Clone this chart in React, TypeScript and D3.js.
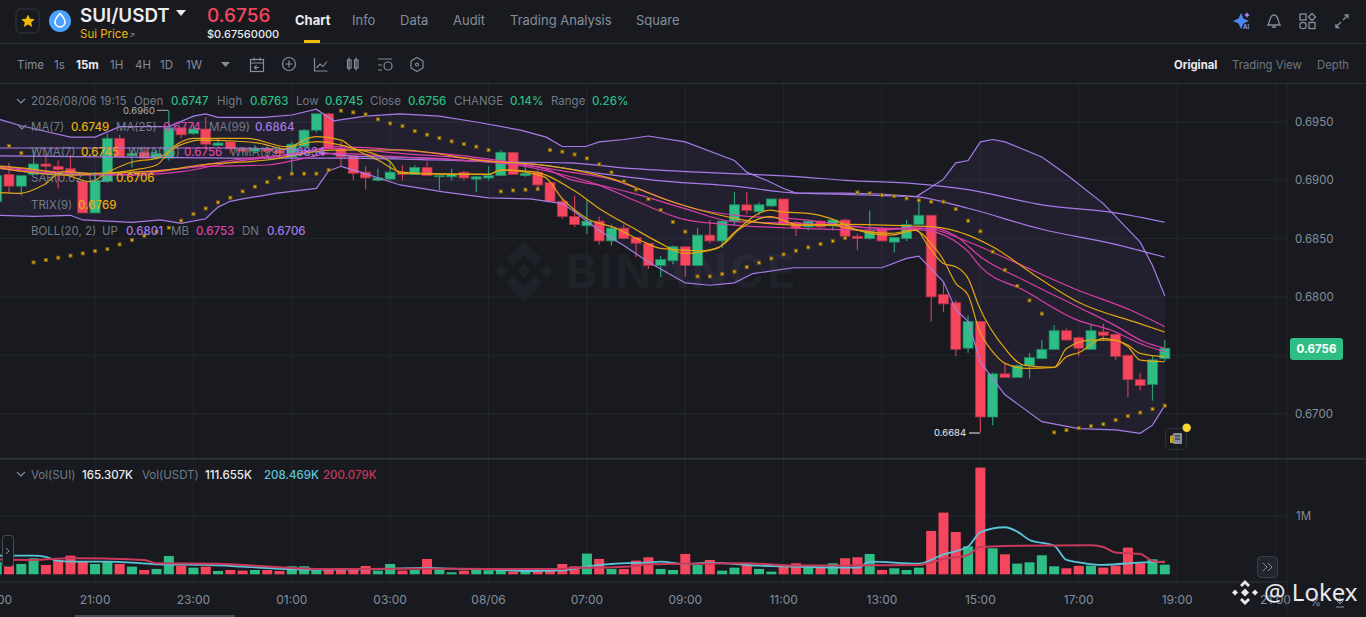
import React from "react";
import * as d3 from "d3";

const opens = [.6882,.6905,.6895,.6905,.6914,.6912,.6910,.6899,.6872,.6899,.6936,.6921,.6924,.6919,.6919,.6945,.6940,.6944,.6930,.6933,.6927,.6925,.6927,.6926,.6920,.6929,.6943,.6957,.6927,.6921,.6907,.6900,.6901,.6907,.6905,.6911,.6903,.6903,.6907,.6901,.6902,.6904,.6924,.6904,.6907,.6898,.6882,.6869,.6861,.6865,.6848,.6859,.6851,.6846,.6827,.6831,.6843,.6827,.6853,.6848,.6865,.6879,.6873,.6878,.6884,.6864,.6860,.6865,.6861,.6866,.6852,.6850,.6859,.6847,.6850,.6862,.6870,.6802,.6795,.6756,.6779,.6697,.6734,.6731,.6741,.6747,.6755,.6771,.6765,.6755,.6770,.6768,.6750,.6729,.6725,.6747];
const highs = [.6906,.6915,.6904,.6926,.6923,.6917,.6922,.6900,.6907,.6940,.6939,.6926,.6929,.6926,.6960,.6945,.6948,.6954,.6936,.6933,.6928,.6930,.6929,.6928,.6933,.6944,.6957,.6958,.6933,.6921,.6912,.6910,.6917,.6913,.6913,.6916,.6905,.6910,.6908,.6904,.6912,.6926,.6924,.6913,.6910,.6898,.6884,.6887,.6883,.6869,.6862,.6862,.6851,.6846,.6835,.6844,.6843,.6859,.6866,.6866,.6890,.6890,.6881,.6884,.6884,.6865,.6866,.6866,.6867,.6867,.6854,.6874,.6860,.6851,.6866,.6884,.6870,.6813,.6797,.6784,.6779,.6735,.6743,.6742,.6752,.6763,.6776,.6773,.6766,.6776,.6777,.6768,.6750,.6735,.6750,.6763];
const lows = [.6880,.6889,.6887,.6905,.6908,.6893,.6902,.6872,.6872,.6899,.6920,.6911,.6919,.6918,.6917,.6936,.6939,.6927,.6929,.6923,.6924,.6923,.6922,.6918,.6907,.6928,.6941,.6927,.6912,.6900,.6892,.6899,.6900,.6900,.6905,.6904,.6892,.6900,.6900,.6890,.6900,.6904,.6905,.6903,.6891,.6882,.6867,.6860,.6854,.6845,.6844,.6850,.6834,.6824,.6817,.6828,.6817,.6827,.6846,.6842,.6861,.6871,.6870,.6877,.6862,.6852,.6857,.6859,.6857,.6849,.6840,.6849,.6848,.6838,.6848,.6862,.6779,.6787,.6749,.6752,.6684,.6690,.6731,.6731,.6730,.6747,.6755,.6763,.6749,.6755,.6763,.6746,.6714,.6720,.6711,.6745];
const closes = [.6904,.6895,.6904,.6914,.6912,.6909,.6905,.6872,.6900,.6936,.6920,.6923,.6919,.6923,.6945,.6939,.6944,.6931,.6932,.6927,.6925,.6927,.6925,.6923,.6931,.6943,.6957,.6927,.6920,.6906,.6902,.6902,.6907,.6905,.6911,.6904,.6904,.6905,.6902,.6903,.6904,.6924,.6905,.6906,.6896,.6882,.6869,.6862,.6865,.6848,.6859,.6850,.6846,.6827,.6832,.6843,.6827,.6853,.6848,.6865,.6879,.6874,.6879,.6884,.6862,.6859,.6865,.6860,.6866,.6852,.6850,.6856,.6848,.6851,.6862,.6870,.6800,.6794,.6755,.6779,.6697,.6734,.6731,.6741,.6748,.6755,.6771,.6763,.6756,.6771,.6767,.6749,.6729,.6724,.6746,.6756];
const volumes = [206,189,177,275,160,246,320,217,177,217,177,132,74,92,315,149,114,132,57,74,63,74,74,57,137,137,74,80,92,92,143,63,177,63,74,263,86,34,63,86,69,74,46,63,74,74,177,137,355,263,92,92,235,292,92,74,349,160,246,63,114,160,92,46,132,189,132,114,189,275,292,349,74,103,74,114,744,1058,726,480,1830,446,343,183,206,326,137,103,143,149,114,149,458,189,257,165];
const sar: (number | null)[] = [null,.69294,.69234,.68296,.68316,.68336,.68353,.68373,.68393,.68410,.68450,.68488,.68525,.68559,.68593,.68653,.68711,.68759,.68811,.68851,.68905,.68945,.68985,.69022,.69057,.69057,.69057,.69088,.69597,.69583,.69565,.69523,.69488,.69465,.69422,.69391,.69362,.69334,.69311,.69288,.69259,.68905,.68913,.68919,.68925,.69259,.69245,.69222,.69188,.69137,.69068,.68991,.68922,.68839,.68745,.68642,.68559,.68176,.68176,.68196,.68216,.68256,.68293,.68330,.68365,.68396,.68425,.68453,.68479,.68505,.68896,.68888,.68873,.68865,.68845,.68828,.68816,.68816,.68753,.68653,.68562,.68387,.68230,.68093,.67970,.67856,.66838,.66858,.66875,.66892,.66909,.66944,.66978,.67007,.67038,.67067];

type Pt = [number, number];
const bollUp: Pt[] = [[-1,.6953],[.3,.6952],[1.9,.6947],[6,.6937],[8,.6937],[10,.6946],[14,.6946],[16,.6955],[17,.6957],[18,.6954],[21.7,.6954],[24,.6956],[26,.6961],[27.4,.6951],[30,.6955],[32.8,.6957],[36,.6955],[39,.6950],[42.6,.6943],[44.7,.6937],[46,.6929],[47.9,.6929],[49,.6933],[51,.6935],[53,.6938],[56,.6933],[60,.6917],[61,.6907],[62.6,.6900],[64,.6893],[65,.6889],[69,.6888],[74.8,.6886],[77,.6901],[78,.6915],[79,.6917],[80,.6933],[81,.6935],[82,.6933],[85,.6920],[87,.6905],[90,.6880],[93,.6847],[94,.6827],[95,.6801]];
const bollDn: Pt[] = [[-1,.6870],[.3,.6870],[3,.6869],[6,.6870],[7,.6866],[11,.6864],[13.3,.6866],[15,.6863],[17,.6867],[18,.6877],[19,.6882],[20,.6884],[22.8,.6889],[26,.6893],[27,.6908],[28,.6912],[29.6,.6907],[32.8,.6896],[36.3,.6890],[40,.6885],[43.4,.6884],[46,.6880],[47,.6873],[49,.6857],[51,.6844],[53,.6830],[56,.6812],[58,.6810],[60,.6812],[61.5,.6820],[64.8,.6825],[72,.6825],[74,.6833],[75,.6835],[77,.6813],[78,.6789],[79,.6779],[80,.6744],[82,.6716],[85,.6693],[88,.6687],[91,.6686],[93,.6683],[94,.6690],[95,.6707]];
const ma99: Pt[] = [[-1,.69277],[19,.69277],[24.7,.69260],[28.7,.69210],[35.2,.69190],[40,.6916],[46.4,.6915],[51.8,.6910],[57,.6907],[65.3,.6903],[69,.6900],[74.8,.6897],[79,.6892],[85,.6879],[91,.6872],[95,.6864]];
const wma99: Pt[] = [[-1,.69211],[19,.69191],[28,.69191],[35.8,.69174],[40,.69160],[43.6,.6914],[49,.6906],[54.5,.6899],[60,.6895],[65.3,.6889],[69,.6889],[74.8,.6886],[79,.6876],[85,.6858],[91,.6845],[95,.6834]];
const wma7: Pt[] = [[-1,.69131],[2.4,.69102],[5.7,.69045],[7.6,.68988],[9,.69068],[11.1,.69159],[13,.69188],[14.9,.69302],[16.5,.69345],[19.3,.69337],[21.4,.69317],[23.6,.69268],[24.7,.69331],[26,.69374],[28,.69345],[29,.69274],[31,.69174],[32.8,.69074],[34.4,.69059],[40,.69051],[41,.69088],[43.6,.69074],[46.9,.68916],[49,.68759],[51.8,.68588],[54,.68459],[55.9,.68373],[58.6,.68416],[59.9,.68545],[62.9,.68745],[63.7,.68731],[65,.68722],[66,.68716],[67.8,.68673],[70,.68573],[72.7,.68530],[74.8,.68573],[75.7,.68445],[77,.68287],[78,.68259],[79,.68159],[79.9,.67916],[82,.67558],[83.5,.67415],[86,.67395],[87,.67487],[88,.67521],[90,.67644],[90.9,.67630],[92,.67587],[93,.67515],[95,.67487]];
const ma7: Pt[] = [[-1,.68902],[1.9,.68888],[3.8,.68959],[5.4,.69074],[8.1,.69059],[11.1,.69088],[13,.69131],[14.4,.69288],[16,.69360],[20.3,.69360],[23.6,.69288],[26,.69331],[28,.69302],[29,.69274],[32,.69159],[32.8,.69059],[40,.69051],[41,.69088],[44.5,.69031],[46.1,.68831],[48,.68673],[50.4,.68588],[52.6,.68473],[54,.68416],[57.2,.68396],[58.8,.68430],[60.5,.68588],[62.9,.68688],[65.3,.68616],[67.8,.68616],[70,.68573],[72.7,.68545],[74.6,.68573],[76,.68459],[77,.68316],[78,.68116],[79,.68016],[79.9,.67716],[81,.67530],[82,.67430],[83.8,.67387],[86,.67395],[87,.67558],[89,.67630],[90.9,.67630],[92,.67573],[93,.67458],[95,.67444]];
const trix: Pt[] = [[-1,.69131],[5.7,.69045],[8.4,.69059],[13.8,.69088],[16.5,.69131],[22,.69174],[27.4,.69259],[32.8,.69260],[39.6,.69168],[45,.69122],[50.4,.69002],[54.5,.68831],[57.2,.68745],[60,.68673],[62.6,.68630],[65.3,.68616],[69,.68622],[74.6,.68608],[76,.68602],[79,.68530],[81,.68430],[85,.68144],[87.9,.67959],[92.9,.67773],[95,.67698]];
const ma25: Pt[] = [[-1,.69131],[7,.69059],[11.1,.69045],[15,.69074],[19.3,.69159],[24.7,.69231],[27.4,.69288],[32.8,.69259],[38.2,.69208],[41,.69168],[46.4,.69074],[50.2,.69002],[53.1,.68888],[57.2,.68745],[60,.68702],[65.3,.68665],[71.9,.68588],[75.4,.68588],[79,.68473],[82.7,.68302],[87.9,.68059],[92.2,.67887],[95,.67744]];
const wma25: Pt[] = [[-1,.69131],[7,.69051],[11.1,.69068],[15,.69102],[19.3,.69174],[23.3,.69217],[27.4,.69274],[32.8,.69231],[41,.69154],[45,.69074],[49,.68959],[51.8,.68831],[55.9,.68665],[60,.68616],[65.3,.68588],[71.9,.68573],[75.4,.68602],[78,.68522],[80,.68345],[83.8,.68130],[87.9,.67916],[90.9,.67758],[93.3,.67615],[95,.67558]];
const bollMb: Pt[] = [[-1,.69117],[7,.69045],[11.1,.69051],[16.5,.69117],[22,.69131],[24.7,.69182],[27.4,.69231],[32.8,.69200],[41,.69145],[44.5,.69102],[46.4,.69016],[49.6,.68945],[51.8,.68888],[55.9,.68759],[60,.68645],[65.3,.68630],[71.9,.68588],[75.4,.68573],[79,.68388],[80,.68259],[83.5,.68059],[87.9,.67801],[90.6,.67716],[93.3,.67587],[95,.67530]];
const volCyan: Pt[] = [[-1,320],[3,320],[4,297],[5,229],[6,217],[9,217],[11,200],[13,172],[17,160],[20,132],[24,86],[26,80],[30,86],[35,109],[37,97],[40,86],[43,57],[46,69],[48,132],[49,160],[50,177],[53,206],[54,217],[56,172],[58,200],[62,149],[66,126],[70,114],[71,217],[75,183],[77,343],[79,475],[80,721],[82,807],[83,732],[84,589],[86,492],[87,246],[88,206],[90,160],[91,172],[92,189],[95,217]];
const volRed: Pt[] = [[-1,257],[3,246],[6,275],[9,269],[12,246],[13,189],[18,183],[20,160],[23,120],[26,92],[30,92],[35,97],[40,92],[46,92],[47,114],[49,114],[51.5,132],[53,172],[57,183],[61,189],[65,149],[69,149],[75,160],[77,263],[79,332],[80,469],[82,486],[89,498],[90,469],[91,372],[93,349],[94,229],[95,206]];

const priceTicks = [0.695, 0.69, 0.685, 0.68, 0.675, 0.67];
const hiddenTick = 0.675; // covered by the last-price tag
const timeLabels = ["19:00","21:00","23:00","01:00","03:00","08/06","07:00","09:00","11:00","13:00","15:00","17:00","19:00","21:00"];
const navItems: [string, number][] = [["Info",352],["Data",400],["Audit",453],["Trading Analysis",510],["Square",636]];
const intervals: [string, number][] = [["Time",17],["1s",54],["1H",110],["4H",135],["1D",160],["1W",186]];

const GREEN = "#2ebd85", RED = "#f6465d", GOLD = "#e0a512", MAG = "#d93ea8", PUR = "#a77be8", GRID = "#23262c", GREY = "#848e9c";
const FONT = "Inter, Roboto, 'Noto Sans', sans-serif";

const x = d3.scaleLinear().domain([0, 95]).range([-3.3, 1164.8]);
const y = d3.scaleLinear().domain([0.67, 0.695]).range([413.5, 122]);
const v = d3.scaleLinear().domain([0, 1000]).range([574.3, 516]);
const lineP = d3.line<Pt>().x(d => x(d[0])).y(d => y(d[1])).curve(d3.curveMonotoneX);
const lineL = d3.line<Pt>().x(d => x(d[0])).y(d => y(d[1]));
const lineV = d3.line<Pt>().x(d => x(d[0])).y(d => v(d[1])).curve(d3.curveMonotoneX);

type Seg = [string, number, string];
const legend: [number, Seg[]][] = [
  [105, [["2026/08/06 19:15",31,GREY],["Open",134,GREY],["0.6747",171,GREEN],["High",217,GREY],["0.6763",250,GREEN],["Low",296,GREY],["0.6745",325,GREEN],["Close",370,GREY],["0.6756",408,GREEN],["CHANGE",454,GREY],["0.14%",510,GREEN],["Range",551,GREY],["0.26%",592,GREEN]]],
  [131, [["MA(7)",31,GREY],["0.6749",71,"#e8ad10"],["MA(25)",116,GREY],["0.6774",163,"#d946b0"],["MA(99)",209,GREY],["0.6864",255,"#a77be8"]]],
  [156, [["WMA(7)",31,GREY],["0.6745",81,"#e8ad10"],["WMA(25)",128,GREY],["0.6756",184,"#d946b0"],["WMA(99)",230,GREY],["0.6834",286,"#a77be8"]]],
  [182, [["SAR(0.02, 0.2)",31,GREY],["0.6706",116,"#e8ad10"]]],
  [209, [["TRIX(9)",31,GREY],["0.6769",78,"#e8ad10"]]],
  [235, [["BOLL(20, 2)",31,GREY],["UP",102,GREY],["0.6801",126,"#a77be8"],["MB",171,GREY],["0.6753",196,"#d946b0"],["DN",242,GREY],["0.6706",267,"#a77be8"]]],
  [479, [["Vol(SUI)",31,GREY],["165.307K",82,"#eaecef"],["Vol(USDT)",142,GREY],["111.655K",205,"#eaecef"],["208.469K",264,"#5cc4d8"],["200.079K",323,"#c8395c"]]],
];

const Chevron = ({ cx, cy }: { cx: number; cy: number }) => (
  <path d={`M${cx - 4} ${cy - 2}L${cx} ${cy + 2}L${cx + 4} ${cy - 2}`} fill="none" stroke={GREY} strokeWidth={1.2} />
);

export default function App() {
  const idx = d3.range(opens.length);
  const area = lineL([...bollUp, ...[...bollDn].reverse()]) + "Z";
  return (
    <svg width={1366} height={617} style={{ position: "absolute", left: 0, top: 0, display: "block", background: "#181a20", fontFamily: FONT }}>
      <defs>
        <clipPath id="main"><rect x={0} y={84} width={1287} height={374} /></clipPath>
        <clipPath id="vol"><rect x={0} y={460} width={1287} height={122} /></clipPath>
      </defs>

      {/* header */}
      <rect x={16} y={9} width={23} height={24} rx={5} fill="none" stroke="#333741" />
      <path d="M28 14.5l2 4.3 4.7.5-3.5 3.1 1 4.6-4.2-2.4-4.2 2.4 1-4.6-3.5-3.1 4.7-.5z" fill="#f0b90b" />
      <circle cx={60} cy={21} r={11} fill="#4da2ff" />
      <path d="M60 13.5c2.8 3 5 5.6 5 8.5a5 5 0 0 1-10 0c0-2.9 2.2-5.5 5-8.5z" fill="none" stroke="#fff" strokeWidth={1.5} />
      <text x={80} y={22} fontSize={18.8} fontWeight={600} fill="#eaecef">SUI/USDT</text>
      <path d="M176 10h10l-5 6z" fill="#eaecef" />
      <text x={80} y={38} fontSize={11.5} fill="#f0b90b">Sui Price</text>
      <text x={129} y={38} fontSize={8} fill={GREY}>↗</text>
      <text x={207} y={22} fontSize={19} fontWeight={500} fill={RED}>0.6756</text>
      <text x={207} y={38} fontSize={11} fontWeight={500} fill="#eaecef">$0.67560000</text>
      <text x={295} y={25} fontSize={13} fontWeight={700} fill="#eaecef">Chart</text>
      <rect x={304} y={40} width={16} height={3} fill="#f0b90b" />
      {navItems.map(([t, px]) => <text key={t} x={px} y={25} fontSize={13} fill={GREY}>{t}</text>)}
      <g fill="none" stroke={GREY} strokeWidth={1.3}>
        <path d="M1268 25c2-2 1-10 6-10s4 8 6 10zM1272 27h4" />
        <rect x={1300} y={14} width={6} height={6} /><path d="M1312 13.5l3.5 3.5-3.5 3.5-3.5-3.5z" />
        <circle cx={1303} cy={25.5} r={3.2} /><rect x={1309} y={22.5} width={6} height={6} />
        <path d="M1336 27l5-5M1336 24v3.5h3.5M1348 15l-5 5M1348 18.5V15h-3.5" />
      </g>
      <path d="M1241 13l2.5 5.5 5.5 2.5-5.5 2.5-2.500 5.500-2.500-5.500-5.500-2.500 5.500-2.500z" fill="#4f87f5" />
      <path d="M1246 14l1-2 1 2 2 1-2 1-1 2-1-2-2-1z" fill="#a58bf0" />
      <text x={1243} y={29} fontSize={6} fontWeight={700} fill="#7f9cf5">AI</text>
      <rect x={0} y={43} width={1366} height={1} fill="#2e323a" />

      {/* toolbar */}
      {intervals.map(([t, px]) => <text key={t} x={px} y={69} fontSize={11.5} fill={GREY}>{t}</text>)}
      <text x={76} y={69} fontSize={11.5} fontWeight={700} fill="#eaecef">15m</text>
      <path d="M221 62h9l-4.500 5z" fill={GREY} />
      <g fill="none" stroke={GREY} strokeWidth={1.2}>
        <rect x={250.5} y={59.5} width={13} height={12} /><path d="M250 63h14M254 57.500v3M260 57.500v3M259 67.500h-4M256.500 65.500l-2 2 2 2" />
        <circle cx={289} cy={64} r={6.5} /><path d="M289 60.500v7M285.500 64h7" />
        <path d="M314.500 58v13h13M316.500 68l3.500-4 3 2.500 4-5" />
        <rect x={347.5} y={60} width={3.5} height={8} /><rect x={354.5} y={60} width={3.5} height={8} /><path d="M349 57.500v13M356 57.500v13" />
        <path d="M378 59h14M378 65h4M378 70h4" /><circle cx={388} cy={66} r={4} />
        <path d="M417 57.500l6 3.500v7l-6 3.500-6-3.500v-7z" /><circle cx={417} cy={64.5} r={1.5} />
      </g>
      <text x={1174} y={69} fontSize={11.3} fontWeight={700} fill="#eaecef">Original</text>
      <text x={1232} y={69} fontSize={11.3} fill="#6f7682">Trading View</text>
      <text x={1317} y={69} fontSize={11.3} fill="#6f7682">Depth</text>
      <rect x={0} y={83} width={1366} height={1} fill="#2e323a" />

      {/* grid */}
      {priceTicks.map(t => <line key={t} x1={0} x2={1287} y1={y(t)} y2={y(t)} stroke={GRID} />)}
      {timeLabels.map((t, i) => (
        <g key={i}>
          <line x1={x(i * 8)} x2={x(i * 8)} y1={84} y2={582} stroke={GRID} />
          <text x={x(i * 8)} y={604} fontSize={12} textAnchor="middle" fill={GREY}>{t}</text>
        </g>
      ))}
      <line x1={0} x2={1287} y1={v(1000)} y2={v(1000)} stroke={GRID} />

      {/* watermark */}
      <g fill="#1f2228">
        <path transform="translate(524 271)" d="M0-30L18-12 11-5 0-16-11-5-18-12ZM0 30L18 12 11 5 0 16-11 5-18 12ZM-30 0L-23-6.700-16 0-23 6.700ZM30 0L23-6.700 16 0 23 6.700ZM0-7L7 0 0 7-7 0Z" />
        <text x={566} y={288} fontSize={47} fontWeight={700} letterSpacing={2.5}>BINANCE</text>
      </g>

      {/* main pane */}
      <g clipPath="url(#main)">
        <path d={area} fill="#9c78dc" fillOpacity={0.08} />
        {idx.map(i => {
          const up = closes[i] >= opens[i];
          const c = up ? GREEN : RED;
          const top = y(Math.max(opens[i], closes[i]));
          const bot = y(Math.min(opens[i], closes[i]));
          return (
            <g key={i}>
              <line x1={x(i)} x2={x(i)} y1={y(highs[i])} y2={y(lows[i])} stroke={c} strokeOpacity={0.8} strokeWidth={1.2} />
              <rect x={x(i) - 5} y={top} width={10} height={Math.max(bot - top, 1)} fill={c} stroke={up ? "#1f8a62" : "#a8324a"} strokeWidth={0.8} />
            </g>
          );
        })}
        {([[ma99, PUR], [wma99, PUR], [bollUp, PUR], [bollDn, PUR]] as [Pt[], string][]).map(([d, c], i) => (
          <path key={i} d={(i < 2 ? lineP(d) : lineL(d)) as string} fill="none" stroke={c} strokeWidth={1.2} />
        ))}
        {([[ma25, MAG], [wma25, MAG], [bollMb, MAG], [trix, GOLD], [wma7, GOLD], [ma7, GOLD]] as [Pt[], string][]).map(([d, c], i) => (
          <path key={i} d={lineP(d) as string} fill="none" stroke={c} strokeWidth={1.2} />
        ))}
        {sar.map((s, i) => s === null ? null : (
          <g key={i}>
            <rect x={x(i) - 2} y={y(s) - 2} width={4} height={4} fill="#7a5e14" />
            <rect x={x(i) - 0.9} y={y(s) - 0.9} width={1.8} height={1.8} fill="#f0b90b" />
          </g>
        ))}
      </g>

      {/* high & low marks */}
      <text x={123} y={114} fontSize={9.5} fill="#a9aeb6">0.6960</text>
      <line x1={157} x2={168} y1={110.3} y2={110.3} stroke="#a9aeb6" />
      <text x={934} y={436} fontSize={9.5} fill="#eaecef">0.6684</text>
      <line x1={969} x2={980} y1={433} y2={433} stroke="#eaecef" />

      {/* legends */}
      {legend.map(([py, segs], r) => segs.map(([t, px, c]) => (
        <text key={r + t + px} x={px} y={py} fontSize={11.5} fontWeight={c === GREY ? 400 : 500} fill={c} fillOpacity={c === GREY ? 0.85 : 1}>{t}</text>
      )))}
      <Chevron cx={21} cy={101} />
      <Chevron cx={22} cy={127} />
      <Chevron cx={21} cy={474} />

      {/* note marker */}
      <rect x={1165.5} y={428.5} width={21} height={21} rx={5} fill="#181a20" stroke="#2e323a" />
      <rect x={1173} y={433} width={9} height={11} rx={1} fill="#848e9c" />
      <path d="M1175 436h5M1175 439h5" stroke="#181a20" />
      <path d="M1170 436l3-1v8h-3z" fill="#c9a227" />
      <circle cx={1186.7} cy={427.7} r={4.2} fill="#fcd535" />

      {/* panes divider and price axis */}
      <rect x={0} y={458} width={1366} height={1.5} fill="#2e323a" />
      {priceTicks.filter(t => t !== hiddenTick).map(t => (
        <text key={t} x={1295} y={y(t) + 4} fontSize={11.5} fill={GREY}>{d3.format(".4f")(t)}</text>
      ))}
      <text x={1296} y={520} fontSize={11.5} fill={GREY}>1M</text>
      <rect x={1290} y={338} width={53} height={22} rx={3} fill={GREEN} />
      <text x={1316.5} y={353} fontSize={11.5} fontWeight={700} textAnchor="middle" fill="#fff">0.6756</text>

      {/* volume pane */}
      <g clipPath="url(#vol)">
        {idx.map(i => (
          <rect key={i} x={x(i) - 5} y={v(volumes[i])} width={10} height={v(0) - v(volumes[i])} fill={closes[i] >= opens[i] ? GREEN : RED} />
        ))}
        <path d={lineV(volCyan) as string} fill="none" stroke="#5cc4d8" strokeWidth={1.8} />
        <path d={lineV(volRed) as string} fill="none" stroke="#c8395c" strokeWidth={2} />
      </g>
      <rect x={0} y={581.5} width={1287} height={1} fill="#2e323a" />
      <line x1={1287} x2={1287} y1={84} y2={617} stroke="#23262c" />

      {/* scroll buttons */}
      <rect x={2.5} y={535.5} width={11} height={31} rx={3} fill="#181a20" stroke="#474d57" />
      <path d="M6 548l3 3-3 3" fill="none" stroke={GREY} />
      <rect x={1257.5} y={556.5} width={20} height={21} rx={4} fill="#22252d" stroke="#3a3f49" />
      <path d="M1263 563l4 4-4 4M1268 563l4 4-4 4" fill="none" stroke={GREY} />
      <rect x={75} y={615} width={160} height={2} fill="#474d57" />

      {/* bottom right */}
      <text x={1310} y={606} fontSize={11} fill={GREY}>%</text>
      <path d="M1340 597v7M1337 601l3 3 3-3M1336 607h8" fill="none" stroke={GREY} />
      <g fill="#e8eaee">
        <path d="M1245 580l5 5-2 2-3-3-3 3-2-2zM1245 605l-5-5 2-2 3 3 3-3 2 2zM1232 592.500l3-3 3 3-3 3zM1252 592.500l3-3 3 3-3 3zM1245 588.500l4 4-4 4-4-4z" />
        <text x={1264} y={601} fontSize={24} fill="#e8eaee" fontFamily="'Noto Sans', sans-serif">@ Lokex</text>
      </g>
    </svg>
  );
}
